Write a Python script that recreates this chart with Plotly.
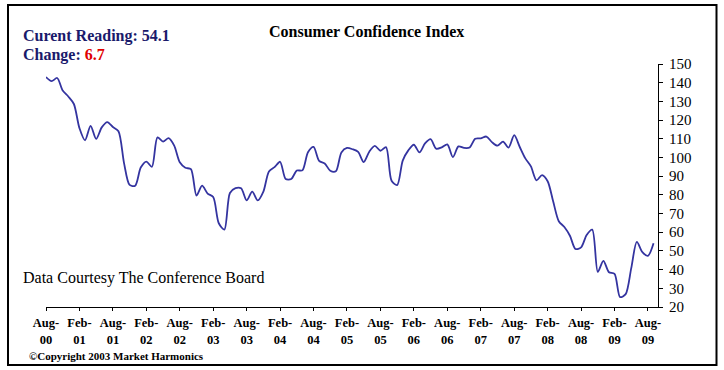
import plotly.graph_objects as go

# Monthly Consumer Confidence Index, Jul-2000 .. Aug-2009
months = []
for y in range(2000, 2010):
    for m in ["Jan", "Feb", "Mar", "Apr", "May", "Jun", "Jul", "Aug", "Sep", "Oct", "Nov", "Dec"]:
        months.append(f"{m}-{str(y)[2:]}")
months = months[months.index("Jul-00"):months.index("Aug-09") + 1]

cci_2000 = [143.0, 140.8, 142.5, 135.8, 132.6, 128.6]
cci_2001 = [115.7, 109.2, 116.9, 109.9, 116.1, 118.9, 116.3, 114.0, 97.0, 85.3, 84.9, 94.6]
cci_2002 = [97.8, 95.0, 110.7, 108.5, 110.3, 106.3, 97.4, 94.5, 93.7, 79.6, 84.9, 80.7]
cci_2003 = [78.8, 64.8, 61.4, 81.0, 83.6, 83.5, 77.0, 81.7, 77.0, 81.7, 92.5, 94.8]
cci_2004 = [97.7, 88.5, 88.5, 93.0, 93.1, 102.8, 105.7, 98.2, 96.8, 92.9, 92.6, 102.7]
cci_2005 = [105.1, 104.4, 103.0, 97.5, 103.1, 106.2, 103.6, 105.5, 87.5, 85.2, 98.3, 103.8]
cci_2006 = [106.8, 102.7, 107.5, 109.8, 104.7, 105.4, 107.0, 100.2, 105.9, 105.1, 105.3, 110.0]
cci_2007 = [110.2, 111.2, 108.2, 106.3, 108.5, 105.3, 111.9, 105.6, 99.5, 95.2, 87.8, 90.6]
cci_2008 = [87.3, 76.4, 65.9, 62.8, 58.1, 51.0, 51.9, 58.5, 61.4, 38.8, 44.7, 38.6]
cci_2009 = [37.7, 25.3, 26.9, 40.8, 54.8, 49.3, 47.4, 54.1]
cci = cci_2000 + cci_2001 + cci_2002 + cci_2003 + cci_2004 + cci_2005 + cci_2006 + cci_2007 + cci_2008 + cci_2009

tick_months = ["Aug", "Feb"] * 9 + ["Aug"]
tick_years = ["00", "01", "01", "02", "02", "03", "03", "04", "04", "05",
              "05", "06", "06", "07", "07", "08", "08", "09", "09"]
tick_labels = [f"<b><span style='font-size:12.5px'>{m}-</span></b><br><b><span style='font-size:12.5px'>{y}</span></b>"
               for m, y in zip(tick_months, tick_years)]
tick_pos = list(range(0, 6 * len(tick_labels), 6))

current_reading = 54.1
change = 6.7

W, H = 724, 370
L, R, T, B = 46, 66, 64, 63
PW, PH = W - L - R, H - T - B


def px(x):
    return (x - L) / PW


def py(y):
    return (H - B - y) / PH


SERIF = "Liberation Serif, Times New Roman, serif"
NAVY = "#1a1a6b"

fig = go.Figure()
fig.add_trace(go.Scatter(
    x=list(range(len(cci))), y=cci, mode="lines",
    line=dict(color="#3434a0", width=1.8, shape="spline", smoothing=0.8),
    text=months, hoverinfo="text+y",
))

fig.update_layout(
    width=W, height=H,
    margin=dict(l=L, r=R, t=T, b=B),
    paper_bgcolor="white", plot_bgcolor="white",
    showlegend=False,
    font=dict(family=SERIF, color="black"),
    xaxis=dict(range=[0, 109.8], tickvals=tick_pos, ticktext=tick_labels,
               showgrid=False, zeroline=False, showline=True, linecolor="black", linewidth=1.2,
               ticks="outside", ticklen=3, tickcolor="black",
               tickfont=dict(family=SERIF, size=13, color="black")),
    yaxis=dict(range=[20, 150], dtick=10, side="right",
               showgrid=False, zeroline=False, showline=True, linecolor="black", linewidth=1.2,
               ticks="outside", ticklen=4, tickcolor="black", ticklabelstandoff=3,
               tickfont=dict(family=SERIF, size=15, color="black")),
    shapes=[dict(type="rect", xref="paper", yref="paper",
                 x0=px(8), x1=px(716.5), y0=py(365), y1=py(5),
                 line=dict(color="black", width=2), fillcolor="rgba(0,0,0,0)", layer="below")],
    annotations=[
        dict(text="<b>Consumer Confidence Index</b>", xref="paper", yref="paper",
             x=px(366), y=py(32), xanchor="center", yanchor="middle", showarrow=False,
             font=dict(family=SERIF, size=16, color="black")),
        dict(text=f"<b>Curent Reading: {current_reading}</b>", xref="paper", yref="paper",
             x=px(21), y=py(36), xanchor="left", yanchor="middle", showarrow=False,
             font=dict(family=SERIF, size=16, color=NAVY)),
        dict(text=f"<b>Change: <span style='color:#e00000'>{change}</span></b>", xref="paper", yref="paper",
             x=px(21), y=py(55), xanchor="left", yanchor="middle", showarrow=False,
             font=dict(family=SERIF, size=16, color=NAVY)),
        dict(text="Data Courtesy The Conference Board", xref="paper", yref="paper",
             x=px(21), y=py(278), xanchor="left", yanchor="middle", showarrow=False,
             font=dict(family=SERIF, size=16, color="black")),
        dict(text="<b>\u00a9Copyright 2003 Market Harmonics</b>", xref="paper", yref="paper",
             x=px(27), y=py(356), xanchor="left", yanchor="middle", showarrow=False,
             font=dict(family=SERIF, size=11, color="black")),
    ],
)

fig.write_html("out.html", config={"displayModeBar": False},
               post_script="document.body.style.margin='0px';")
